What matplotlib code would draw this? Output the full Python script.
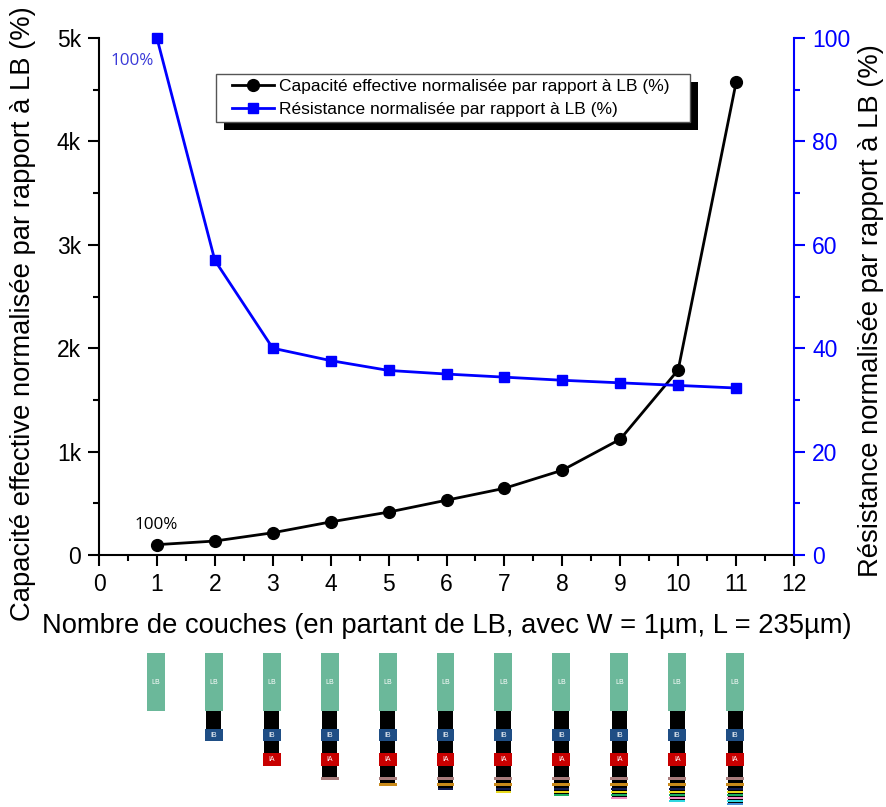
import matplotlib
matplotlib.use('Agg')
import matplotlib.pyplot as plt
from matplotlib.patches import Rectangle
from matplotlib.ticker import FuncFormatter, MultipleLocator

plt.rcParams['font.family'] = ['Liberation Sans', 'DejaVu Sans']

couches = [1, 2, 3, 4, 5, 6, 7, 8, 9, 10, 11]
capacite = [100, 135, 215, 320, 415, 530, 645, 820, 1120, 1790, 4570]
resistance = [100, 57, 40, 37.6, 35.7, 35, 34.4, 33.8, 33.3, 32.8, 32.3]

label_cap = 'Capacité effective normalisée par rapport à LB (%)'
label_res = 'Résistance normalisée par rapport à LB (%)'
label_x = 'Nombre de couches (en partant de LB, avec W = 1µm, L = 235µm)'

# layers of the stack, top to bottom: name, colour, width, height, via height above it
noms = ['LB', 'IB', 'IA', 'M', 'O', 'N', 'Y', 'G', 'P', 'C', 'B']
couleurs = ['#6bb89a', '#1f4e85', '#c80000', '#a87c7c', '#c98a1a', '#101a50',
            '#e6d81e', '#1ab060', '#f08ac0', '#30d8e0', '#4a90d8']
largeurs = [0.31, 0.31, 0.31, 0.31, 0.31, 0.27, 0.27, 0.27, 0.27, 0.27, 0.27]
hauteurs = [58, 12, 13, 3, 3, 2, 2, 2, 2, 2, 2]
vias = [0, 18, 12, 11, 3, 2, 1, 1, 1, 1, 1]

W, H = 886, 807
fig = plt.figure(figsize=(W / 100, H / 100), dpi=100)
ax = fig.add_axes([99 / W, 1 - 555 / H, 695 / W, 517 / H])
ax2 = ax.twinx()

l1, = ax.plot(couches, capacite, '-o', color='black', lw=2, ms=8.5, clip_on=False, zorder=5)
l2, = ax2.plot(couches, resistance, '-s', color='#0000ff', lw=2, ms=7, clip_on=False, zorder=5)

ax.set_xlim(0, 12)
ax.set_ylim(0, 5000)
ax2.set_ylim(0, 100)

ax.xaxis.set_major_locator(MultipleLocator(1))
ax.xaxis.set_minor_locator(MultipleLocator(0.5))
ax.yaxis.set_major_locator(MultipleLocator(1000))
ax.yaxis.set_minor_locator(MultipleLocator(500))
ax.yaxis.set_major_formatter(FuncFormatter(lambda v, p: '0' if v == 0 else '%dk' % (v / 1000)))
ax2.yaxis.set_major_locator(MultipleLocator(20))
ax2.yaxis.set_minor_locator(MultipleLocator(10))

ax.spines['top'].set_visible(False)
ax2.spines['top'].set_visible(False)
ax2.spines['left'].set_visible(False)
ax2.spines['bottom'].set_visible(False)
ax.spines['right'].set_visible(False)
ax.spines['left'].set_linewidth(1.5)
ax.spines['bottom'].set_linewidth(1.5)
ax2.spines['right'].set_linewidth(1.5)
ax2.spines['right'].set_color('#0000ff')

ax.tick_params(which='major', length=8, width=1.5, labelsize=16.5, pad=5)
ax.tick_params(which='minor', length=4, width=1.5)
ax2.tick_params(which='major', length=8, width=1.5, labelsize=16.5, pad=5, colors='#0000ff')
ax2.tick_params(which='minor', length=4, width=1.5, colors='#0000ff')

fig.text(23 / W, 1 - 314 / H, label_cap, rotation=90, fontsize=19.7, ha='center', va='center')
fig.text(871 / W, 1 - 311 / H, label_res, rotation=90, fontsize=19.7, ha='center', va='center')
fig.text(447 / W, 1 - 626 / H, label_x, fontsize=19.7, ha='center', va='center')

ax.text(0.62, 290, '100%', fontsize=12.3, family='Open Sans', va='center', ha='left')
ax2.text(0.19, 95.6, '100%', fontsize=12.3, family='Open Sans', va='center', ha='left', color='#3a3ad8')

# frame and hard shadow of the legend, the legend itself has no frame
ax2.add_patch(Rectangle((224 / W, 1 - 130 / H), 474 / W, 48 / H, transform=fig.transFigure,
                        facecolor='black', edgecolor='black', lw=0, zorder=8, clip_on=False))
ax2.add_patch(Rectangle((216 / W, 1 - 122 / H), 474 / W, 48 / H, transform=fig.transFigure,
                        facecolor='white', edgecolor='#555555', lw=1, zorder=9, clip_on=False))
leg = ax2.legend([l1, l2], [label_cap, label_res], loc='center left',
                 bbox_to_anchor=(232 / W, 1 - 98 / H), bbox_transform=fig.transFigure,
                 fontsize=12.5, frameon=False, handlelength=2.4, handletextpad=0.3,
                 labelspacing=0.5, borderpad=0, borderaxespad=0)
leg.set_zorder(10)

# stacks under the axis, same x scale as the main axes, y in pixels from the top
sk = fig.add_axes([98 / W, 0, 695 / W, 1 - 645 / H])
sk.set_xlim(0, 12)
sk.set_ylim(H, 645)
sk.axis('off')

for n in couches:
    y = 653
    for i in range(n):
        y += vias[i]
        if vias[i] > 0:
            sk.add_patch(Rectangle((n - 0.13, y - vias[i]), 0.26, vias[i], color='black', lw=0, zorder=1))
        sk.add_patch(Rectangle((n - largeurs[i] / 2, y), largeurs[i], hauteurs[i],
                               color=couleurs[i], lw=0, zorder=2))
        if hauteurs[i] > 10:
            sk.text(n, y + hauteurs[i] / 2, noms[i], color='white', fontsize=5, ha='center', va='center', zorder=3)
        y += hauteurs[i]

fig.savefig('out.png', dpi=100)
